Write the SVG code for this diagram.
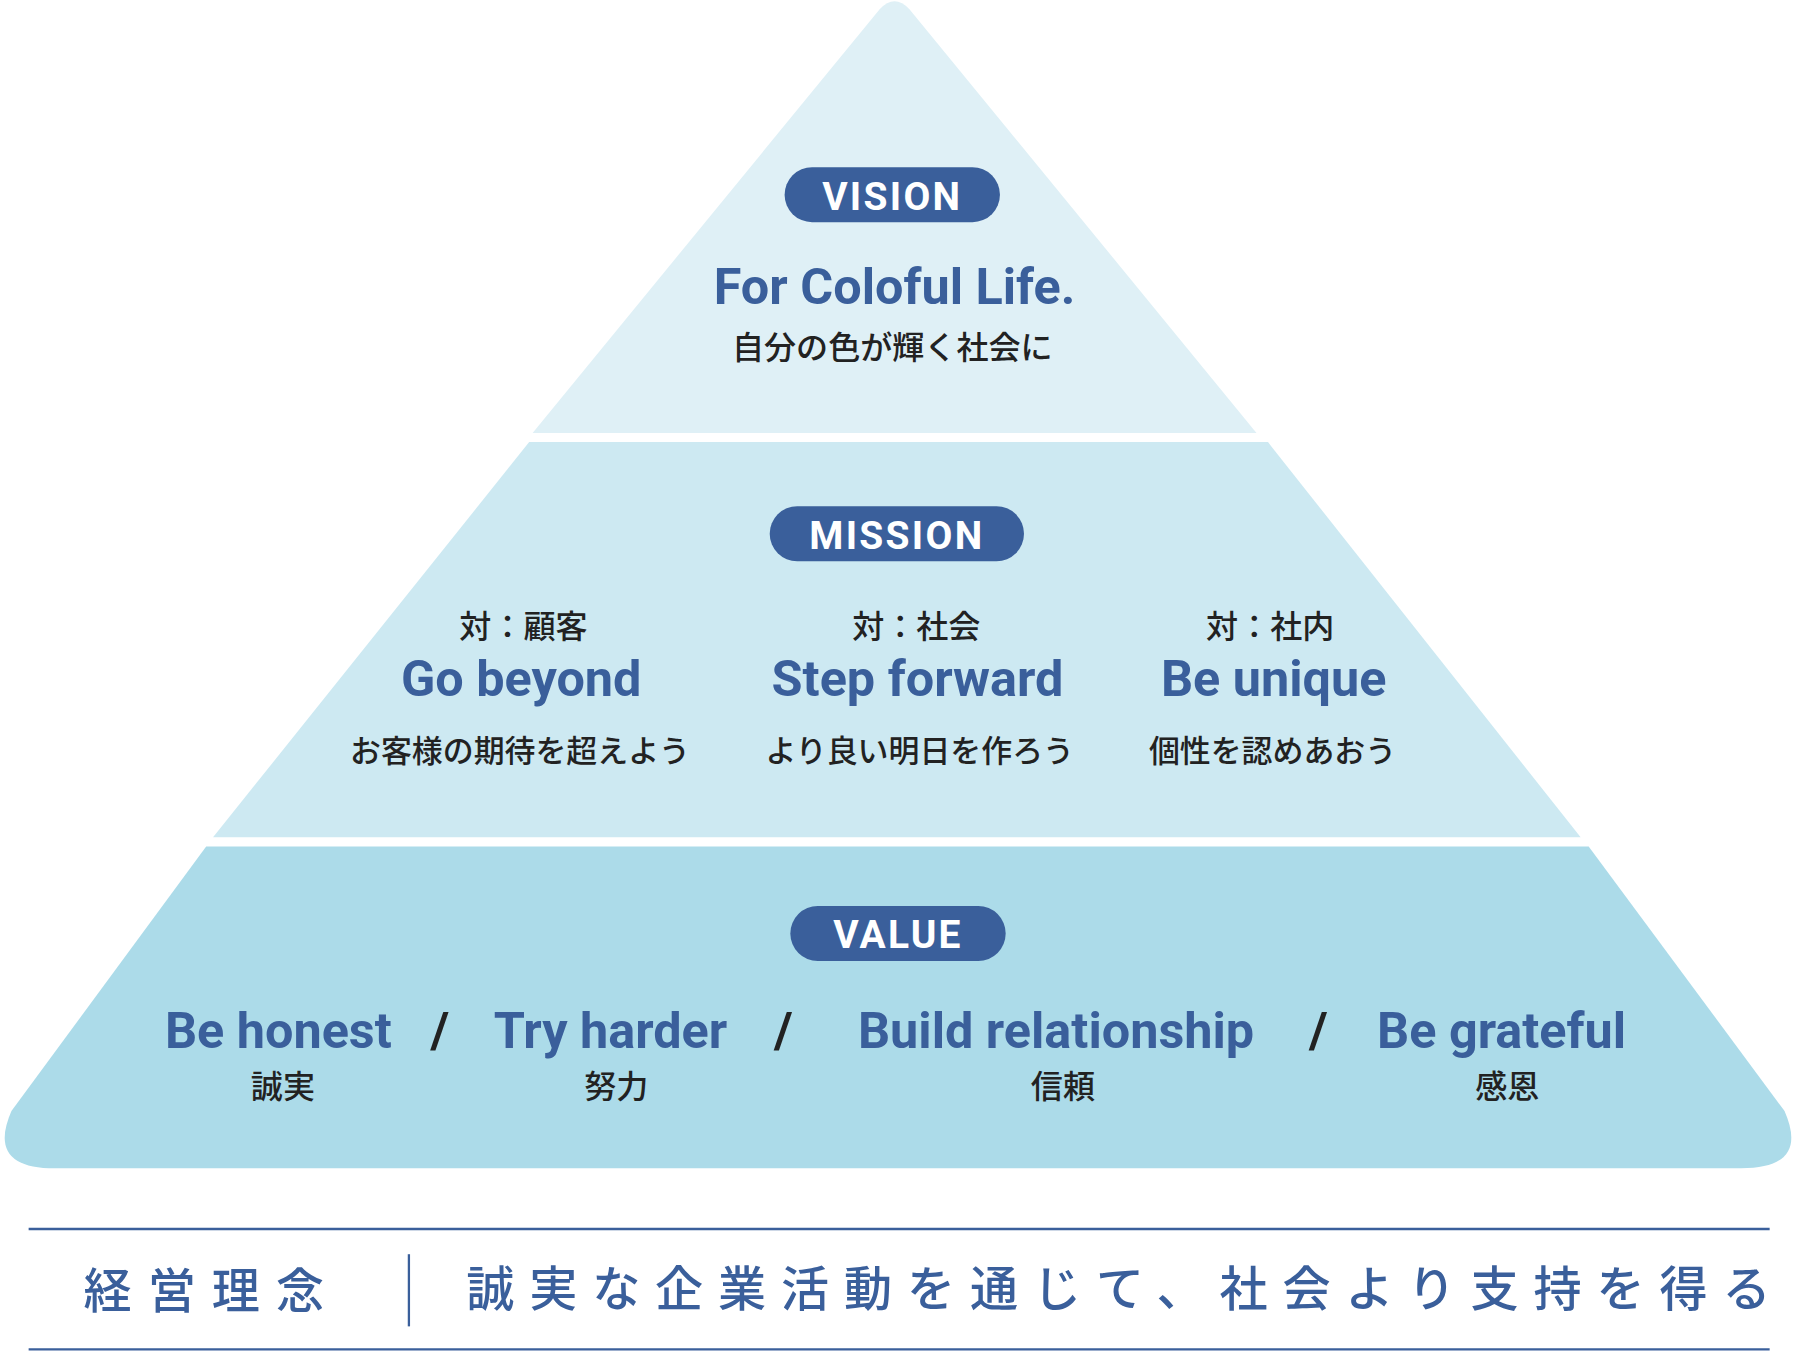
<svg xmlns="http://www.w3.org/2000/svg" width="1796" height="1353" viewBox="0 0 1796 1353">
<style>
.en{font-family:Roboto,"Liberation Sans",sans-serif;font-weight:700;fill:#3a5f9b;text-anchor:middle}
.jp{font-family:"Noto Sans CJK JP",sans-serif;font-weight:500;fill:#222;text-anchor:middle}
.pill{fill:#3a5f9b}
.pt{font-family:Roboto,"Liberation Sans",sans-serif;font-weight:700;fill:#fff;text-anchor:middle;font-size:34px;letter-spacing:2px}
.sl{font-family:Roboto,"Liberation Sans",sans-serif;font-weight:700;fill:#222;text-anchor:middle;font-size:44px}
.bt{font-family:"Noto Sans CJK JP",sans-serif;font-weight:500;fill:#3a5f9b;font-size:42px}
</style>
<rect width="1796" height="1353" fill="#fff"/>
<g transform="scale(1.1454)">
<g id="vision">
<path d="M465,378 L768,8 Q781,-6 794,8 L1097,378 Z" fill="#dff0f6"/>
<rect class="pill" x="685" y="146" width="188" height="48" rx="24"/>
<text class="pt" x="779" y="183">VISION</text>
<text class="en" x="781" y="265" font-size="44">For Coloful Life.</text>
<text class="jp" x="779" y="313" font-size="28">自分の色が輝く社会に</text>
</g>
<g id="mission">
<path d="M462,386 L1107,386 L1380,731 L186,731 Z" fill="#cde9f2"/>
<rect class="pill" x="672" y="442" width="222" height="48" rx="24"/>
<text class="pt" x="783" y="479">MISSION</text>
<text class="jp" x="457" y="557" font-size="28">対：顧客</text>
<text class="jp" x="800" y="557" font-size="28">対：社会</text>
<text class="jp" x="1109" y="557" font-size="28">対：社内</text>
<text class="en" x="455" y="608" font-size="44">Go beyond</text>
<text class="en" x="801" y="608" font-size="44">Step forward</text>
<text class="en" x="1112" y="608" font-size="44">Be unique</text>
<text class="jp" x="454" y="665" font-size="27">お客様の期待を超えよう</text>
<text class="jp" x="803" y="665" font-size="27">より良い明日を作ろう</text>
<text class="jp" x="1111" y="665" font-size="27">個性を認めあおう</text>
</g>
<g id="value">
<path d="M180,739 L1387,739 L1558,970 Q1580,1020 1520,1020 L48,1020 Q-12,1020 10,970 Z" fill="#acdbe9"/>
<rect class="pill" x="690" y="791" width="188" height="48" rx="24"/>
<text class="pt" x="784" y="828">VALUE</text>
<text class="en" x="243" y="915" font-size="44">Be honest</text>
<text class="en" x="533" y="915" font-size="44">Try harder</text>
<text class="en" x="922" y="915" font-size="44">Build relationship</text>
<text class="en" x="1311" y="915" font-size="44">Be grateful</text>
<text class="sl" x="384" y="915">/</text>
<text class="sl" x="684" y="915">/</text>
<text class="sl" x="1151" y="915">/</text>
<text class="jp" x="247" y="959" font-size="28">誠実</text>
<text class="jp" x="538" y="959" font-size="28">努力</text>
<text class="jp" x="928" y="959" font-size="28">信頼</text>
<text class="jp" x="1316" y="959" font-size="28">感恩</text>
</g>
<g id="philosophy">
<line x1="25" y1="1073" x2="1545" y2="1073" stroke="#3a5f9b" stroke-width="2"/>
<line x1="25" y1="1178" x2="1545" y2="1178" stroke="#3a5f9b" stroke-width="2"/>
<line x1="357" y1="1095" x2="357" y2="1158" stroke="#3a5f9b" stroke-width="2"/>
<text class="bt" x="73" y="1142" font-size="46" letter-spacing="14">経営理念</text>
<text class="bt" x="407" y="1140" font-size="40" letter-spacing="13">誠実な企業活動を通じて、社会より支持を得る</text>
</g>
</g>
</svg>
